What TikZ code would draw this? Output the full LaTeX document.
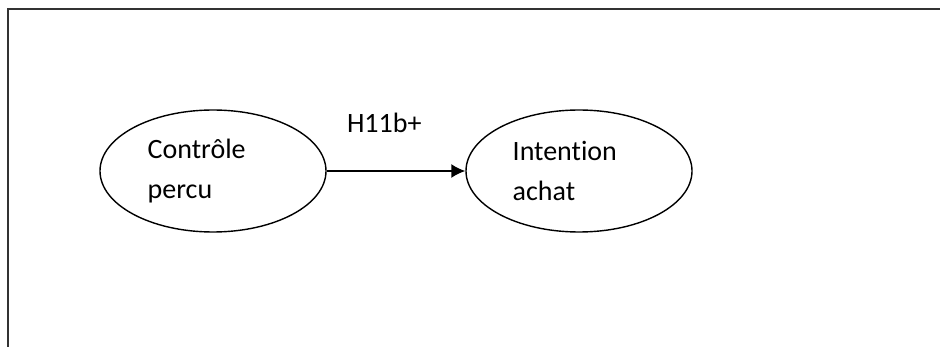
\documentclass[tikz,border=0pt]{standalone}
\usepackage{fontspec}
\setmainfont[RawFeature={-liga;-clig;-calt;-dlig}]{Carlito}
\usetikzlibrary{shapes.geometric,arrows.meta,positioning}
\begin{document}
\begin{tikzpicture}[x=0.5pt,y=-0.5pt,
    construct/.style={ellipse,draw,line width=0.7pt,minimum width=113pt,minimum height=61pt,inner sep=0pt},
    caption/.style={align=left,inner sep=0pt,font=\fontsize{14}{20}\selectfont}]
    \useasboundingbox (0,0) rectangle (940,347);

    % Draw frame
    \draw[line width=1pt,black!80] (8,347) -- (8,9) -- (940,9);

    % Draw constructs
    \node[construct] (ctrl) at (213,171) {};
    \node[construct] (intent) at (579,171) {};

    % Label constructs
    \node[caption,anchor=west] (ctrltxt) at ([xshift=24pt]ctrl.west) {Contrôle\\percu};
    \node[caption,anchor=west] (intenttxt) at ([xshift=23.5pt]intent.west) {Intention\\achat};

    % Draw hypothesis
    \draw[line width=0.9pt,-{Latex[length=7pt,width=7pt]}] (ctrl.east) -- (intent.west)
        node[caption,pos=0.14,anchor=base west,yshift=19pt] (hyp) {H11b+};
\end{tikzpicture}
\end{document}
